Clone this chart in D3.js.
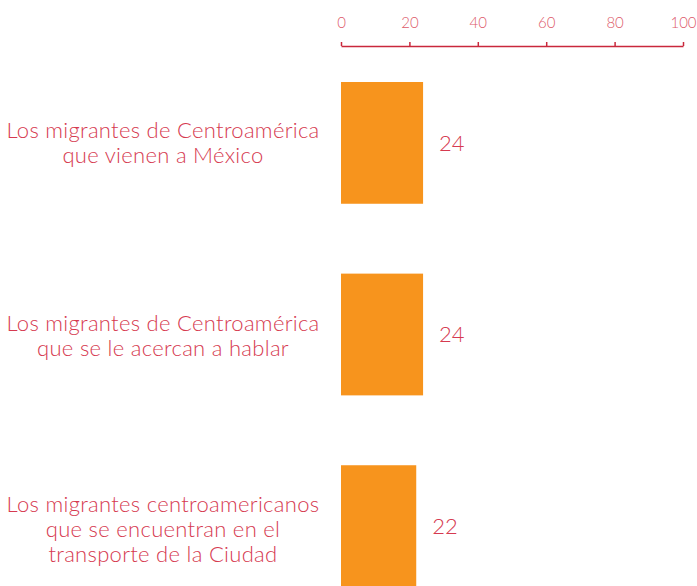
<!DOCTYPE html>
<html lang="es">
<head>
<meta charset="UTF-8">
<script src="https://d3js.org/d3.v7.min.js"></script>
<style>
body { margin: 0; background: #fff; }
svg text { font-family: Lato, "Open Sans", sans-serif; font-weight: 300; }
.tick text { fill: #dd5a6a; font-size: 15px; }
.tick line, .domain { stroke: #c9283c; stroke-width: 1.5px; }
.cat { fill: #d63a50; font-size: 22px; letter-spacing: 0.3px; }
.val { fill: #d63a50; font-size: 22px; }
</style>
</head>
<body>
<div id="chart"></div>
<script>
var categories = [
  ["Los migrantes de Centroamérica", "que vienen a México"],
  ["Los migrantes de Centroamérica", "que se le acercan a hablar"],
  ["Los migrantes centroamericanos", "que se encuentran en el", "transporte de la Ciudad"]
];
var values = [24, 24, 22];
var tickValues = [0, 20, 40, 60, 80, 100];

var width = 697, height = 586;

var svg = d3.select("#chart").append("svg")
    .attr("width", width)
    .attr("height", height);

var x = d3.scaleLinear().domain([0, 100]).range([341, 683]);
var y = d3.scaleBand()
    .domain(d3.range(values.length))
    .range([82, 587])
    .paddingInner(70 / 192)
    .paddingOuter(0);

// axis on top
svg.append("g")
    .attr("transform", "translate(0,46)")
    .call(d3.axisTop(x).tickValues(tickValues).tickSize(4).tickSizeOuter(0).tickPadding(14));

// bars
svg.selectAll("rect.bar")
    .data(values)
    .enter().append("rect")
    .attr("class", "bar")
    .attr("x", x(0))
    .attr("y", function(d, i) { return y(i); })
    .attr("width", function(d) { return x(d) - x(0); })
    .attr("height", y.bandwidth())
    .attr("fill", "#f7941d");

// value labels
svg.selectAll("text.val")
    .data(values)
    .enter().append("text")
    .attr("class", "val")
    .attr("x", function(d) { return x(d) + 16; })
    .attr("y", function(d, i) { return y(i) + y.bandwidth() / 2; })
    .attr("dy", "0.35em")
    .text(function(d) { return d; });

// category labels
var lh = 25;
var cats = svg.selectAll("text.cat")
    .data(categories)
    .enter().append("text")
    .attr("class", "cat")
    .attr("text-anchor", "middle")
    .attr("x", 163)
    .attr("y", function(d, i) { return y(i) + y.bandwidth() / 2 + i * 1.5 - (d.length - 1) * lh / 2; });

cats.selectAll("tspan")
    .data(function(d) { return d; })
    .enter().append("tspan")
    .attr("x", 163)
    .attr("dy", function(d, j) { return j === 0 ? "0.35em" : lh; })
    .text(function(d) { return d; });
</script>
</body>
</html>
